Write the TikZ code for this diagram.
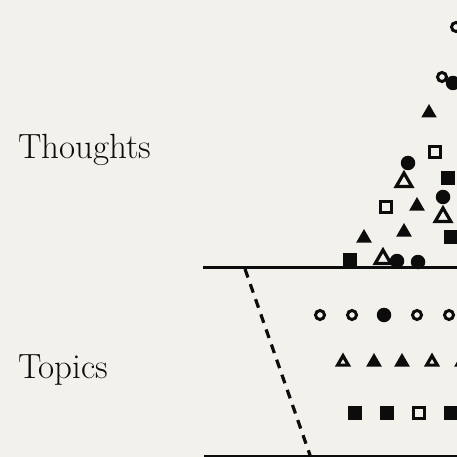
\documentclass[tikz,border=0pt]{standalone}
\usepackage{xcolor}
\usepackage{tikz}
\usetikzlibrary{shapes.geometric, positioning}
\definecolor{paperColor}{RGB}{243, 241, 236}
\definecolor{inkColor}{RGB}{12, 12, 12}

\begin{document}
\begin{tikzpicture}[
    x=1pt, y=-1pt,
    label/.style={anchor=base west, inner sep=0pt, font=\fontsize{35}{40}\selectfont, text=inkColor},
    opencirc/.style={circle, draw=inkColor, line width=3pt, inner sep=0pt, minimum size=9pt},
    fillcirc/.style={circle, fill=inkColor, inner sep=0pt, minimum size=14.5pt},
    filltri/.style={regular polygon, regular polygon sides=3, fill=inkColor, inner sep=0pt, minimum size=18pt},
    opentri/.style={regular polygon, regular polygon sides=3, draw=inkColor, line width=3.2pt, inner sep=0pt, minimum size=18pt},
    smalltri/.style={regular polygon, regular polygon sides=3, draw=inkColor, line width=3.2pt, inner sep=0pt, minimum size=12.5pt},
    fillsq/.style={rectangle, fill=inkColor, inner sep=0pt, minimum size=14pt},
    opensq/.style={rectangle, draw=inkColor, line width=3pt, inner sep=0pt, minimum size=11.5pt},
    rule/.style={draw=inkColor, line width=3pt},
    dashline/.style={draw=inkColor, line width=3.2pt, dash pattern=on 9pt off 7pt}
]
    % Fundo
    \useasboundingbox (0,0) rectangle (457,457);
    \fill[paperColor] (0,0) rectangle (457,457);
    \clip (0,0) rectangle (457,457);

    % Rotulos
    \node (thoughts) [label] at (18,158) {Thoughts};
    \node (topics) [label] at (18,378) {Topics};

    % Pilha de pensamentos
    \node (th1) [opencirc] at (456,27) {};
    \node (th2) [opencirc] at (442,77) {};
    \node (th3) [fillcirc] at (453,83) {};
    \node (th4) [filltri] at (429,113) {};
    \node (th5) [opensq] at (435,152) {};
    \node (th6) [fillcirc] at (408,163) {};
    \node (th7) [opentri] at (404,182) {};
    \node (th8) [fillsq] at (448,178) {};
    \node (th9) [fillcirc] at (443,197) {};
    \node (th10) [opensq] at (386,207) {};
    \node (th11) [filltri] at (417,206) {};
    \node (th12) [opentri] at (443,217) {};
    \node (th13) [filltri] at (404,232) {};
    \node (th14) [fillsq] at (451,237) {};
    \node (th15) [filltri] at (364,238) {};
    \node (th16) [fillsq] at (350,260) {};
    \node (th17) [opentri] at (383,259) {};
    \node (th18) [fillcirc] at (397,261) {};
    \node (th19) [fillcirc] at (418,262) {};

    % Linha de circulos
    \node (c1) [opencirc] at (320,315) {};
    \node (c2) [opencirc] at (352,315) {};
    \node (c3) [fillcirc] at (384,315) {};
    \node (c4) [opencirc] at (417,315) {};
    \node (c5) [opencirc] at (449,315) {};

    % Linha de triangulos
    \node (t1) [smalltri] at (343,362) {};
    \node (t2) [filltri] at (374,362) {};
    \node (t3) [filltri] at (402,362) {};
    \node (t4) [smalltri] at (432,362) {};
    \node (t5) [filltri] at (462,362) {};

    % Linha de quadrados
    \node (q1) [fillsq] at (355,413) {};
    \node (q2) [fillsq] at (387,413) {};
    \node (q3) [opensq] at (419,413) {};
    \node (q4) [fillsq] at (451,413) {};

    % Linhas
    \coordinate (topL) at (203,267.5);
    \coordinate (topR) at (460,267.5);
    \coordinate (botL) at (204,456);
    \coordinate (botR) at (460,456);
    \coordinate (funA) at (245,269);
    \coordinate (funB) at (311,458);
    \path [rule] (topL) -- (topR);
    \path [rule] (botL) -- (botR);
    \path [dashline] (funA) -- (funB);
\end{tikzpicture}
\end{document}
